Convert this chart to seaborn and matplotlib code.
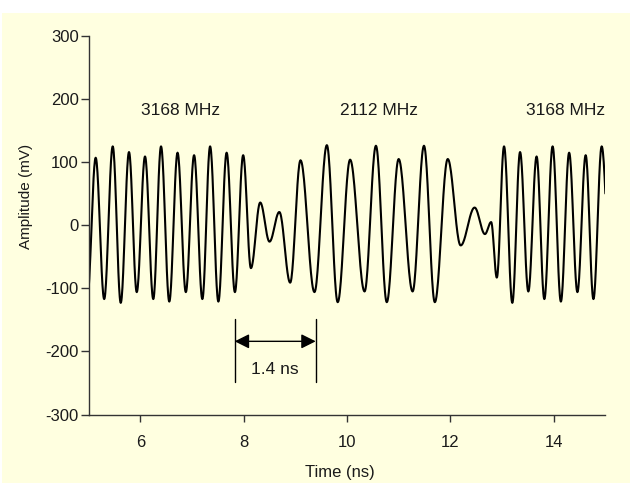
import numpy as np
import pandas as pd
import matplotlib
matplotlib.use("Agg")
import matplotlib.pyplot as plt
from matplotlib.patches import Rectangle
import seaborn as sns

# waveform extrema (time in ns, amplitude in mV)
t_ext = [4.97, 5.135, 5.30, 5.465, 5.62, 5.78, 5.93, 6.09, 6.25, 6.40,
         6.56, 6.72, 6.88, 7.04, 7.20, 7.35, 7.51, 7.67, 7.83, 7.99,
         8.14, 8.32, 8.50, 8.69, 8.90, 9.10, 9.37, 9.61, 9.82, 10.06,
         10.34, 10.56, 10.77, 11.00, 11.27, 11.49, 11.70, 11.95, 12.20, 12.47,
         12.67, 12.79, 12.90, 13.04, 13.20, 13.35, 13.51, 13.67, 13.82, 13.98,
         14.14, 14.30, 14.46, 14.62, 14.77, 14.93, 15.12]
mv_ext = [-118, 107, -117, 125, -123, 116, -106, 109, -117, 125,
          -121, 115, -106, 111, -117, 125, -121, 115, -106, 111,
          -68, 36, -26, 21, -91, 103, -106, 127, -122, 104,
          -105, 126, -122, 105, -105, 126, -122, 105, -32, 28,
          -14, 5, -83, 125, -123, 116, -105, 109, -117, 125,
          -121, 115, -106, 111, -117, 125, -117]

band_labels = ["3168 MHz", "2112 MHz", "3168 MHz"]
band_t = [6.77, 10.61, 14.24]
band_mv = 182

x_ticks = [6, 8, 10, 12, 14]
y_ticks = [-300, -200, -100, 0, 100, 200, 300]

# 1.4 ns marker
gap_t = [7.826, 9.394]
gap_top, gap_bot, gap_arrow = -148, -248, -184

# smooth sinusoidal half-swings between consecutive extrema
u = np.linspace(0, 1, 25)
tt, vv = [], []
for i in range(len(t_ext) - 1):
    w = (1 - np.cos(np.pi * u)) / 2
    tt.extend(t_ext[i] + u * (t_ext[i + 1] - t_ext[i]))
    vv.extend(mv_ext[i] + w * (mv_ext[i + 1] - mv_ext[i]))
df = pd.DataFrame({"t": tt, "mv": vv})

sns.set_style("ticks")
plt.rcParams['font.family'] = ['Liberation Sans', 'DejaVu Sans']
plt.rcParams['axes.unicode_minus'] = False
bg = "#FFFFE0"
txt = "#1a1a1a"

fig = plt.figure(figsize=(6.3, 4.83), dpi=100)
fig.patch.set_facecolor("white")
fig.patches.append(Rectangle((2 / 630, 0), 1, 1 - 13 / 483, transform=fig.transFigure,
                             facecolor=bg, edgecolor="none", zorder=-5))
ax = fig.add_axes([0.1408, 0.1418, 0.8200, 0.7837])
ax.set_zorder(2)
ax.set_facecolor("none")

sns.lineplot(data=df, x="t", y="mv", sort=False, estimator=None,
             color="black", lw=1.5, ax=ax)

ax.set_xlim(5, 15)
ax.set_ylim(-300, 300)
ax.set_xticks(x_ticks)
ax.set_yticks(y_ticks)
sns.despine(ax=ax)
for s in ["left", "bottom"]:
    ax.spines[s].set_color("#333333")
    ax.spines[s].set_linewidth(1.0)
ax.tick_params(axis="y", length=6, width=1.0, color="#333333", pad=1,
               labelsize=12, labelcolor=txt)
ax.tick_params(axis="x", length=5, width=1.0, color="#333333", pad=10,
               labelsize=12, labelcolor=txt)

ax.set_xlabel("Time (ns)", fontsize=12, color=txt)
ax.xaxis.set_label_coords(0.4865, -0.133)
ax.set_ylabel("Amplitude (mV)", fontsize=11, color=txt)
ax.yaxis.set_label_coords(-0.108, 0.577)

for lab, t in zip(band_labels, band_t):
    ax.text(t, band_mv, lab, ha="center", va="center", fontsize=12.5, color=txt)

for t in gap_t:
    ax.plot([t, t], [gap_top, gap_bot], color="black", lw=1.0)
ax.annotate("", xy=(gap_t[0], gap_arrow), xytext=(gap_t[1], gap_arrow),
            arrowprops=dict(arrowstyle="<|-|>", color="black", lw=1.0,
                            mutation_scale=22, shrinkA=0, shrinkB=0))
ax.text(sum(gap_t) / 2, -228, "1.4 ns", ha="center", va="center",
        fontsize=12.5, color=txt)

fig.savefig("out.png", dpi=100, facecolor=fig.get_facecolor())
